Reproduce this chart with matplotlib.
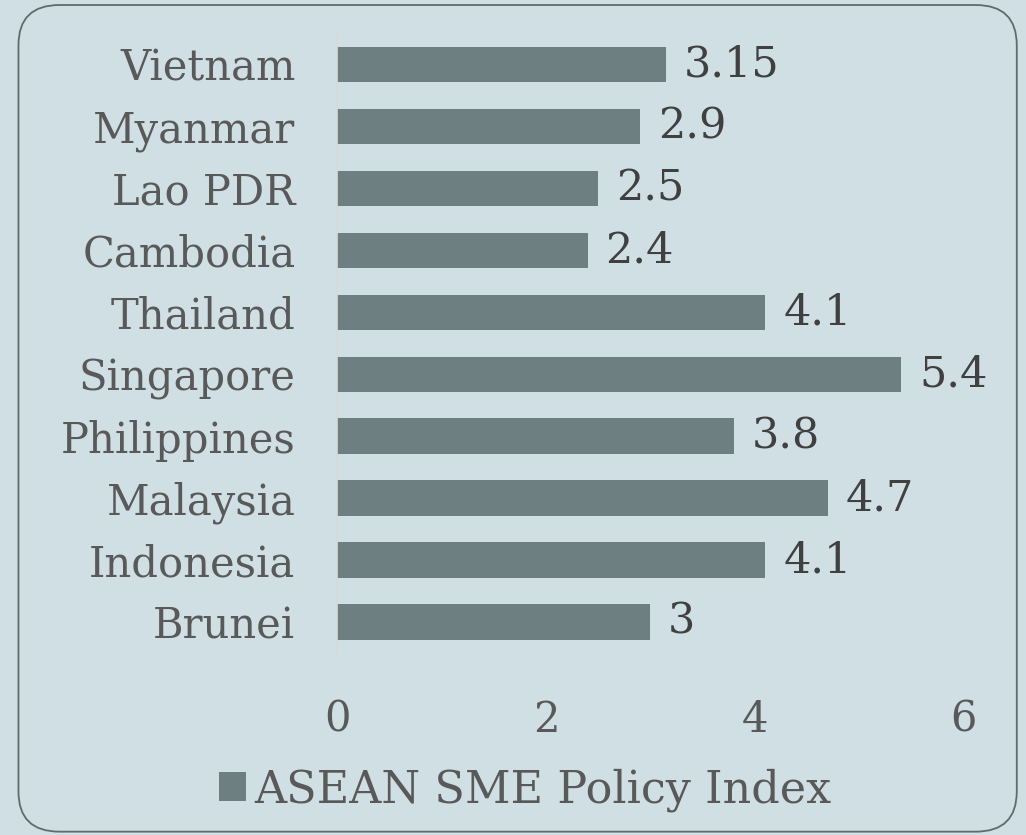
import matplotlib.pyplot as plt
from matplotlib.patches import FancyBboxPatch

countries = ["Brunei", "Indonesia", "Malaysia", "Philippines", "Singapore",
             "Thailand", "Cambodia", "Lao PDR", "Myanmar", "Vietnam"]
index_vals = [3, 4.1, 4.7, 3.8, 5.4, 4.1, 2.4, 2.5, 2.9, 3.15]
val_labels = ["3", "4.1", "4.7", "3.8", "5.4", "4.1", "2.4", "2.5", "2.9", "3.15"]
x_ticks = [0, 2, 4, 6]
series_name = "ASEAN SME Policy Index"

bg = "#cfdfe4"
bar_col = "#6e7f82"
txt = "#595959"

plt.rcParams["font.family"] = ["DejaVu Serif"]

fig = plt.figure(figsize=(10.26, 8.35), dpi=100, facecolor=bg)

# rounded frame
frame = FancyBboxPatch((0.018, 0.004), 0.973, 0.99,
                       boxstyle="round,pad=0,rounding_size=0.04",
                       transform=fig.transFigure, facecolor="none",
                       edgecolor="#5f6b6d", linewidth=1.3, mutation_aspect=1.2)
fig.patches.append(frame)

ax = fig.add_axes([0.3285, 0.218, 0.611, 0.742])
ax.set_facecolor("none")
y = list(range(len(countries)))
bars = ax.barh(y, index_vals, height=0.57, color=bar_col, label=series_name)
for b, lab in zip(bars, val_labels):
    ax.text(b.get_width() + 0.17, b.get_y() + b.get_height() / 2, lab,
            va="center", ha="left", fontsize=31, color="#404040")

ax.set_xlim(0, 6)
ax.set_ylim(-0.5, 9.5)
ax.set_xticks(x_ticks)
ax.set_xticklabels([str(t) for t in x_ticks])
ax.set_yticks(y)
ax.set_yticklabels(countries)
ax.tick_params(axis="y", length=0, pad=30, labelsize=30, labelcolor=txt)
ax.tick_params(axis="x", length=0, pad=33, labelsize=30, labelcolor=txt)
for s in ["top", "right", "bottom"]:
    ax.spines[s].set_visible(False)
ax.spines["left"].set_color("#d9d9d9")
ax.spines["left"].set_linewidth(1.2)

fig.legend(handles=[bars], labels=[series_name], loc="center",
           bbox_to_anchor=(0.512, 0.054), frameon=False, fontsize=32,
           labelcolor=txt, handlelength=0.6, handleheight=0.6,
           handletextpad=0.2)

fig.savefig("out.png", dpi=100, facecolor=bg)
